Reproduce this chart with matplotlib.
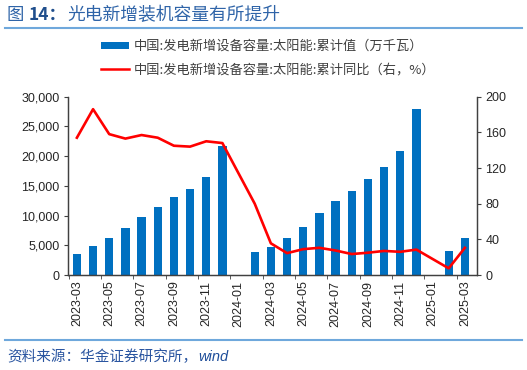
import numpy as np
import matplotlib
matplotlib.use("Agg")
import matplotlib.pyplot as plt
from matplotlib.lines import Line2D
from matplotlib.patches import Patch

plt.rcParams['font.family'] = ['Liberation Sans', 'Noto Sans CJK SC', 'DejaVu Sans']

months = ["2023-03", "2023-04", "2023-05", "2023-06", "2023-07", "2023-08", "2023-09",
          "2023-10", "2023-11", "2023-12", "2024-01", "2024-02", "2024-03", "2024-04",
          "2024-05", "2024-06", "2024-07", "2024-08", "2024-09", "2024-10", "2024-11",
          "2024-12", "2025-01", "2025-02", "2025-03"]
cum_value = [3500, 4950, 6250, 7950, 9800, 11450, 13050, 14400, 16550, 21750, np.nan,
             3800, 4750, 6170, 8000, 10370, 12500, 14130, 16200, 18220, 20800,
             27850, np.nan, 4080, 6150]
cum_yoy = [154, 186, 158, 153, 157, 154, 145, 144, 150, 148, np.nan,
           80, 35.5, 24.5, 29, 30.5, 27.5, 23.5, 25, 27, 26,
           28.5, np.nan, 7.5, 30.5]

label_bar = "中国:发电新增设备容量:太阳能:累计值（万千瓦）"
label_line = "中国:发电新增设备容量:太阳能:累计同比（右，%）"

W, H = 527, 370
fig = plt.figure(figsize=(W / 100, H / 100), dpi=100)

x0, x1 = 68, 477
y_top, y_bot = 96.7, 275
ax = fig.add_axes([x0 / W, 1 - y_bot / H, (x1 - x0) / W, (y_bot - y_top) / H])
ax2 = ax.twinx()

x = np.arange(len(months))
bar_color = '#0070C0'
vals = np.array(cum_value, dtype=float)
ax.bar(x, np.nan_to_num(vals), width=0.52, color=bar_color, zorder=2)

yoy = np.array(cum_yoy, dtype=float)
m = ~np.isnan(yoy)
ax2.plot(x[m], yoy[m], color='#FF0000', lw=1.9, zorder=3)

ax.set_xlim(-0.55, 24.75)
ax.set_ylim(0, 30000)
ax2.set_ylim(0, 200)
ax.set_yticks(np.arange(0, 30001, 5000))
ax.set_yticklabels([f"{v:,}" for v in range(0, 30001, 5000)])
ax2.set_yticks(np.arange(0, 201, 40))

ax.set_xticks(x[::2])
ax.set_xticklabels(months[::2], rotation=90)
ax.set_xticks(np.arange(-0.5, 24.6, 2), minor=True)
ax.tick_params(axis='x', which='major', length=0, pad=4)
ax.tick_params(axis='x', which='minor', length=3, direction='out', color='#404040')

axis_col = '#404040'
txt_col = '#262626'
for a in (ax, ax2):
    for s in a.spines.values():
        s.set_color(axis_col)
        s.set_linewidth(0.9)
    a.spines['top'].set_visible(False)
ax.tick_params(axis='both', labelsize=9, labelcolor=txt_col)
ax.tick_params(axis='y', length=3, color=axis_col, pad=3)
ax2.tick_params(axis='y', length=3, color=axis_col, labelsize=9, labelcolor=txt_col, pad=3)

# legend
handles = [Patch(facecolor=bar_color, edgecolor='none'),
           Line2D([0], [0], color='#FF0000', lw=1.8)]
leg = fig.legend(handles, [label_bar, label_line], loc='upper left',
                 bbox_to_anchor=(101 / W, 1 - 40 / H), frameon=False,
                 prop={'family': ['Noto Sans CJK SC', 'DejaVu Sans'], 'size': 9.5},
                 handlelength=2.1, handleheight=0.5, handletextpad=0.4,
                 labelspacing=0.8, borderpad=0, borderaxespad=0)
for t in leg.get_texts():
    t.set_color('#404040')

# title
title_col = '#2F64A8'
cjk = ['Noto Sans CJK SC', 'DejaVu Sans']
fig.text(7 / W, 1 - 15 / H, "图", fontsize=12.5, color=title_col, va='center', ha='left',
         family=cjk)
fig.text(29 / W, 1 - 15 / H, "14：", fontsize=12.5, color='#1F4E8C', va='center', ha='left',
         fontweight='bold', family=cjk)
fig.text(67 / W, 1 - 15 / H, "光电新增装机容量有所提升", fontsize=12.8, color=title_col,
         va='center', ha='left', family=cjk)
line_col = '#6FA8DC'
fig.add_artist(Line2D([5 / W, 522 / W], [1 - 28 / H, 1 - 28 / H], color=line_col, lw=1.5))
fig.add_artist(Line2D([5 / W, 522 / W], [1 - 340 / H, 1 - 340 / H], color=line_col, lw=1.5))

src = fig.text(7 / W, 1 - 357 / H, "资料来源：华金证券研究所，", fontsize=10.5, color='#2A55A0',
               va='center', ha='left', family=cjk)
fig.canvas.draw()
bb = src.get_window_extent()
fig.text((bb.x1 + 1) / W, 1 - 357 / H, "wind", fontsize=10.5, color='#1F4E9A',
         va='center', ha='left', style='italic', family=['Liberation Sans'])

fig.savefig("out.png", dpi=100)
